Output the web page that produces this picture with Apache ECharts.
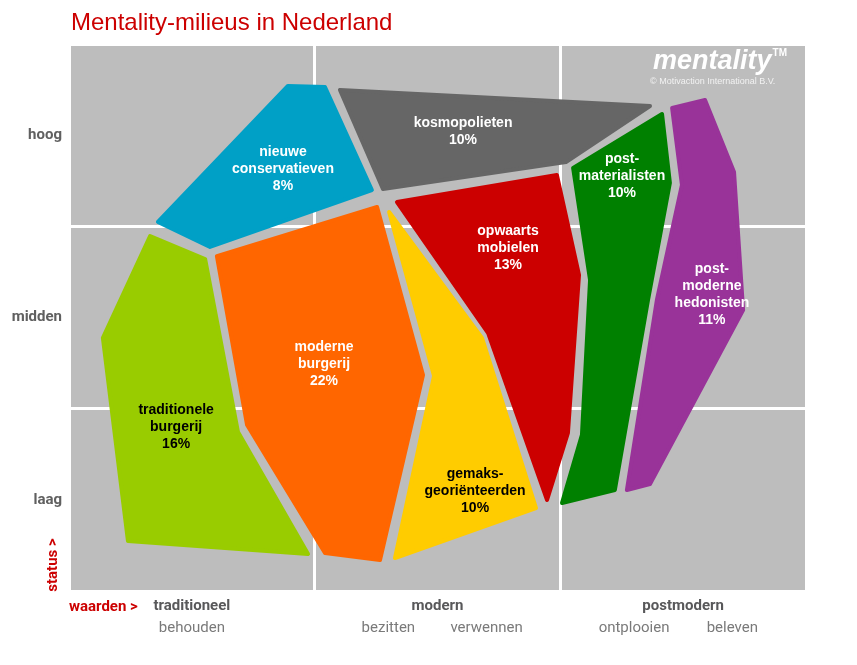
<!DOCTYPE html>
<html>
<head>
<meta charset="utf-8">
<script src="https://cdn.jsdelivr.net/npm/echarts@6/dist/echarts.min.js"></script>
<style>
html,body{margin:0;padding:0;background:#fff;}
#chart{width:857px;height:665px;}
</style>
</head>
<body>
<div id="chart"></div>
<script>
// ---- data ----
const statusLabels = ['laag', 'midden', 'hoog'];
const statusTicks = [50, 150, 250];
const valueGroups = ['traditioneel', 'modern', 'postmodern'];
const valueGroupTicks = [50, 150, 250];
const valueSubLabels = ['behouden', 'bezitten', 'verwennen', 'ontplooien', 'beleven'];
const valueSubTicks = [50, 130, 170, 230, 270];

const milieuNames = ['traditionele\nburgerij', 'moderne\nburgerij', 'nieuwe\nconservatieven', 'kosmopolieten',
  'opwaarts\nmobielen', 'gemaks-\ngeoriënteerden', 'post-\nmaterialisten', 'post-\nmoderne\nhedonisten'];
const milieuShares = [16, 22, 8, 10, 13, 10, 10, 11];
// outlines in (waarden, status) units, 0..300 each
const milieuOutlines = [
  [[33.0,194.7],[55.4,182.1],[68.8,87.2],[97.3,20.3],[24.0,27.4],[13.8,138.8]],
  [[60.2,183.7],[125.4,210.6],[144.1,118.5],[126.6,17.0],[104.2,20.8],[72.5,91.0]],
  [[89.1,277.0],[104.2,276.4],[123.3,219.9],[57.4,188.7],[36.2,202.4]],
  [[110.3,274.8],[236.5,266.0],[202.3,235.3],[127.8,220.5]],
  [[133.5,213.3],[198.6,228.2],[207.6,173.3],[203.1,86.7],[194.6,49.9],[170.6,141.5]],
  [[130.3,207.9],[168.1,138.8],[190.1,45.5],[132.7,18.1],[148.6,117.9]],
  [[205.2,232.0],[241.4,261.6],[244.6,223.8],[235.7,159.6],[222.2,55.4],[200.7,48.3],[208.8,85.6],[212.1,170.6]],
  [[245.5,264.9],[258.9,269.3],[270.7,229.8],[274.4,154.1],[236.5,58.7],[227.1,55.4],[239.3,159.6],[249.5,222.7]]
];
const milieuLabelAt = [[43.6,89.9],[103.8,124.5],[87.1,231.4],[160.4,251.7],[178.7,188.1],[165.3,54.8],[225.1,227.6],[261.7,162.3]];

// ---- styles ----
const milieuColors = ['#99cc00', '#ff6600', '#00a0c6', '#666666', '#cc0000', '#ffcc00', '#008000', '#993399'];
const milieuTextColors = ['#000', '#fff', '#fff', '#fff', '#fff', '#000', '#fff', '#fff'];
const axisFont = 'Roboto';

const chart = echarts.init(document.getElementById('chart'), null, {renderer: 'canvas'});

const option = {
  animation: false,
  grid: {left: 69, right: 51, top: 44, bottom: 74, show: true, backgroundColor: '#bdbdbd', borderWidth: 0},
  xAxis: [
    {type: 'value', min: 0, max: 300, interval: 100,
      axisLine: {show: false}, axisTick: {show: false}, axisLabel: {show: false},
      splitLine: {show: true, lineStyle: {color: '#ffffff', width: 3}}},
    {type: 'value', min: 0, max: 300, interval: 10, position: 'bottom',
      axisLine: {show: false, onZero: false}, axisTick: {show: false}, splitLine: {show: false},
      axisLabel: {margin: 8, color: '#58585a', fontSize: 15, fontWeight: 'bold', fontFamily: axisFont,
        formatter: v => { const k = valueGroupTicks.indexOf(Math.round(v)); return k >= 0 ? valueGroups[k] : ''; }}},
    {type: 'value', min: 0, max: 300, interval: 10, position: 'bottom', offset: 22,
      axisLine: {show: false, onZero: false}, axisTick: {show: false}, splitLine: {show: false},
      axisLabel: {margin: 8, color: '#7a7a7a', fontSize: 15, fontFamily: axisFont,
        formatter: v => { const k = valueSubTicks.indexOf(Math.round(v)); return k >= 0 ? valueSubLabels[k] : ''; }}}
  ],
  yAxis: [
    {type: 'value', min: 0, max: 300, interval: 100,
      axisLine: {show: false}, axisTick: {show: false}, axisLabel: {show: false},
      splitLine: {show: true, lineStyle: {color: '#ffffff', width: 3}}},
    {type: 'value', min: 0, max: 300, interval: 50, position: 'left',
      axisLine: {show: false, onZero: false}, axisTick: {show: false}, splitLine: {show: false},
      axisLabel: {margin: 7, color: '#606060', fontSize: 15, fontWeight: 'bold', fontFamily: axisFont,
        formatter: v => { const k = statusTicks.indexOf(Math.round(v)); return k >= 0 ? statusLabels[k] : ''; }}}
  ],
  graphic: [
    {type: 'text', x: 71, y: 23, style: {text: 'Mentality-milieus in Nederland', fill: '#cc0000',
      font: '24px "Liberation Sans", Arial, sans-serif', align: 'left', verticalAlign: 'middle'}},
    {type: 'text', x: 787, y: 62, style: {text: '{m|mentality}{t|TM}', align: 'right', verticalAlign: 'middle',
      rich: {
        m: {fill: '#ffffff', fontFamily: 'Liberation Sans', fontWeight: 'bold', fontStyle: 'italic', fontSize: 27},
        t: {fill: '#ffffff', fontFamily: 'Liberation Sans', fontWeight: 'bold', fontSize: 10, verticalAlign: 'top', padding: [0, 0, 10, 1]}
      }}},
    {type: 'text', x: 650, y: 82, style: {text: '© Motivaction International B.V.', fill: '#f2f2f2',
      font: '9px "Liberation Sans", Arial, sans-serif', align: 'left', verticalAlign: 'middle'}},
    {type: 'text', x: 69, y: 607, style: {text: 'waarden >', fill: '#cc0000',
      font: 'bold 15px Roboto', align: 'left', verticalAlign: 'middle'}},
    {type: 'text', x: 53, y: 565, rotation: Math.PI / 2, style: {text: 'status >', fill: '#cc0000',
      font: 'bold 15px Roboto', align: 'center', verticalAlign: 'middle'}}
  ],
  series: [{
    type: 'custom',
    xAxisIndex: 0, yAxisIndex: 0,
    clip: false,
    data: milieuLabelAt.map((p, i) => [p[0], p[1], i]),
    encode: {x: 0, y: 1},
    renderItem: function (params, api) {
      const i = api.value(2);
      const pts = milieuOutlines[i].map(p => api.coord(p));
      const c = api.coord([api.value(0), api.value(1)]);
      return {
        type: 'group',
        children: [
          {type: 'polygon', shape: {points: pts},
            style: {fill: milieuColors[i], stroke: milieuColors[i], lineWidth: 4, lineJoin: 'round'}},
          {type: 'text', x: c[0], y: c[1],
            style: {text: milieuNames[i] + '\n' + milieuShares[i] + '%', fill: milieuTextColors[i],
              font: 'bold 14px "Liberation Sans", Arial, sans-serif', align: 'center', verticalAlign: 'middle', lineHeight: 17}}
        ]
      };
    }
  }]
};
chart.setOption(option);
</script>
</body>
</html>
